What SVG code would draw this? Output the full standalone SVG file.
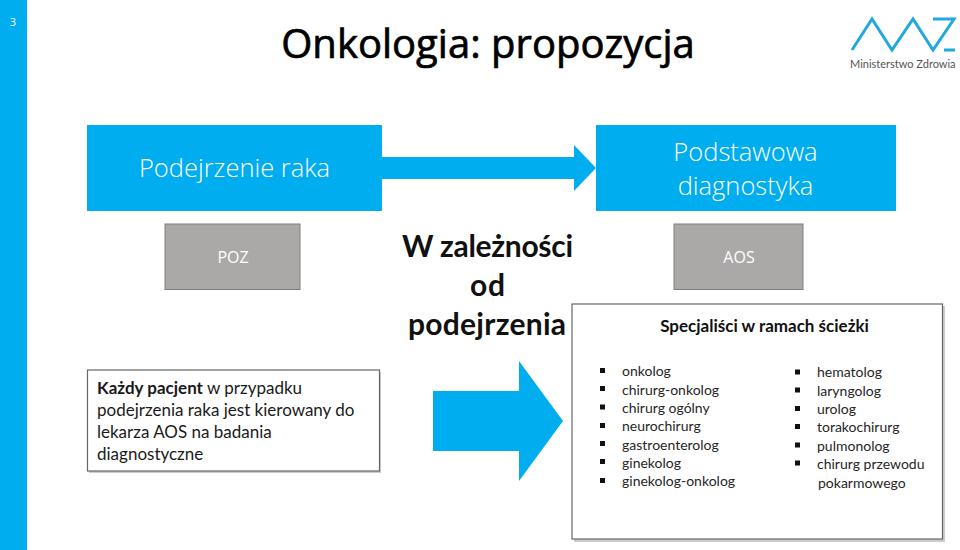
<svg xmlns="http://www.w3.org/2000/svg" width="960" height="550" viewBox="0 0 960 550">
<style>
.b{fill:#00adef}
.g{fill:#aba8a8;stroke:#7f7f7f;stroke-width:1}
.w{fill:#fff;stroke:#666;stroke-width:1.2}
.s{font-family:"Open Sans","Noto Sans",sans-serif}
.l{font-family:Lato,"Noto Sans",sans-serif}
.t{font-size:14px;fill:#262626}
.h{fill:#fff;font-size:25.5px;text-anchor:middle;font-weight:300}
.k{fill:#111;font-size:30px;font-weight:700}
.d{fill:#1a1a1a}
.c{font-size:16px;fill:#fff;text-anchor:middle}
</style>
<rect width="960" height="550" fill="#fff"/>
<rect id="sidebar" class="b" x="0" y="0" width="27" height="550"/>
<text class="s" x="13" y="26" font-size="11" fill="#fff" text-anchor="middle">3</text>
<text id="title" class="s" x="488" y="58" font-size="40" fill="#000" stroke="#000" stroke-width="0.7" text-anchor="middle">Onkologia: propozycja</text>
<g id="logo">
<path d="M852 50L872 19L892 50L913 19L933 50L954 19H933" fill="none" stroke="#1fa9df" stroke-width="3"/>
<path d="M944 50H955" stroke="#1fa9df" stroke-width="3"/>
<text class="l" x="850" y="68" font-size="11" fill="#555">Ministerstwo Zdrowia</text>
</g>
<g id="connectors">
<path class="b" d="M382 157H574V145L596 168L574 191V179H382Z"/>
<path class="b" d="M433 391H519V361L563 421L519 481V451H433Z"/>
</g>
<g id="podejrzenie"><rect class="b" x="87" y="125" width="295" height="86"/>
<text class="s h" x="234.500" y="177">Podejrzenie raka</text></g>
<g id="diagnostyka"><rect class="b" x="596" y="125" width="300" height="86"/>
<text class="s h" x="745.500" y="160.500">Podstawowa</text><text class="s h" x="745.500" y="195">diagnostyka</text></g>
<g id="poz"><rect class="g" x="165" y="224" width="135" height="65.500"/>
<text class="s c" x="233" y="263">POZ</text></g>
<g id="aos"><rect class="g" x="674" y="224" width="129" height="65.500"/>
<text class="s c" x="739" y="263">AOS</text></g>
<g id="zaleznosc">
<text class="l k" x="402" y="257" textLength="171">W zależności</text>
<text class="l k" x="470" y="296" textLength="35">od</text>
<text class="l k" x="408" y="335" textLength="158">podejrzenia</text>
</g>
<g id="pacjent"><rect x="89" y="372" width="292" height="101" fill="#ccc"/><rect class="w" x="87.500" y="370" width="292" height="101"/>
<text class="l d" font-size="17"><tspan x="97" y="394" font-weight="700">Każdy pacjent</tspan><tspan> w przypadku</tspan><tspan x="97" y="416">podejrzenia raka jest kierowany do</tspan><tspan x="97" y="438">lekarza AOS na badania</tspan><tspan x="97" y="460">diagnostyczne</tspan></text></g>
<g id="specjalisci"><rect x="574" y="306" width="371" height="236" fill="#ccc"/><rect class="w" x="572" y="304" width="370.500" height="235"/>
<text class="l" x="764.500" y="332" font-size="17" font-weight="700" fill="#111" text-anchor="middle">Specjaliści w ramach ścieżki</text>
<g fill="#111">
<rect x="600" y="368" width="5" height="5"/><rect x="600" y="386" width="5" height="5"/><rect x="600" y="404.500" width="5" height="5"/><rect x="600" y="423" width="5" height="5"/><rect x="600" y="441" width="5" height="5"/><rect x="600" y="459" width="5" height="5"/><rect x="600" y="478" width="5" height="5"/>
<rect x="795" y="369.500" width="5" height="5"/><rect x="795" y="387.500" width="5" height="5"/><rect x="795" y="406" width="5" height="5"/><rect x="795" y="424" width="5" height="5"/><rect x="795" y="442.500" width="5" height="5"/><rect x="795" y="460.500" width="5" height="5"/>
</g>
<g class="l t">
<text x="622" y="376">onkolog</text><text x="622" y="394.500">chirurg-onkolog</text><text x="622" y="413">chirurg ogólny</text><text x="622" y="431">neurochirurg</text><text x="622" y="449.500">gastroenterolog</text><text x="622" y="468">ginekolog</text><text x="622" y="486">ginekolog-onkolog</text>
<text x="817" y="377">hematolog</text><text x="817" y="395.500">laryngolog</text><text x="817" y="414">urolog</text><text x="817" y="432">torakochirurg</text><text x="817" y="450.500">pulmonolog</text><text x="817" y="469">chirurg przewodu</text><text x="818" y="487.500">pokarmowego</text>
</g></g>
</svg>
